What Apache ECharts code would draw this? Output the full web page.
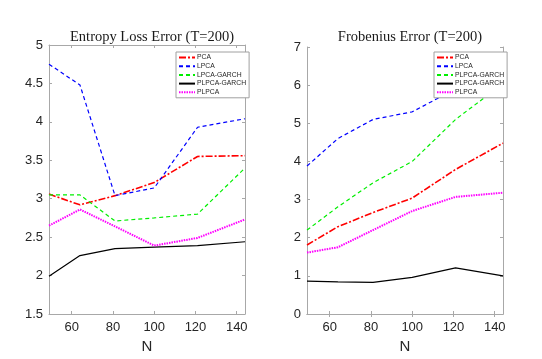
<!DOCTYPE html>
<html>
<head>
<meta charset="utf-8">
<script src="https://cdn.jsdelivr.net/npm/echarts@6/dist/echarts.min.js"></script>
<style>
  html, body { margin: 0; padding: 0; background: #fff; }
  #chart { width: 542px; height: 359px; }
</style>
</head>
<body>
<div id="chart"></div>
<script>
var N = [49, 64, 81, 100, 121, 144];
var xTicks = [60, 80, 100, 120, 140];

// Entropy loss error (left panel)
var entPCA = [3.06, 2.92, 3.04, 3.21, 3.55, 3.56];
var entLPCA = [4.75, 4.48, 3.04, 3.14, 3.93, 4.04];
var entLPCAGarch = [3.05, 3.05, 2.71, 2.75, 2.80, 3.40];
var entPLPCAGarch = [1.99, 2.26, 2.35, 2.37, 2.39, 2.44];
var entPLPCA = [2.65, 2.86, 2.64, 2.39, 2.49, 2.73];
var leftNames = ['PCA', 'LPCA', 'LPCA-GARCH', 'PLPCA-GARCH', 'PLPCA'];

// Frobenius error (right panel)
var froPCA = [1.81, 2.29, 2.66, 3.04, 3.79, 4.48];
var froLPCA = [3.88, 4.60, 5.10, 5.30, 5.90, 6.59];
var froLPCAGarch = [2.20, 2.81, 3.44, 4.00, 5.10, 6.04];
var froPLPCAGarch = [0.86, 0.84, 0.83, 0.96, 1.21, 1.00];
var froPLPCA = [1.61, 1.75, 2.20, 2.70, 3.07, 3.18];
var rightNames = ['PCA', 'LPCA', 'PLPCA-GARCH', 'PLPCA-GARCH', 'PLPCA'];

var styles = [
    {color: '#ff0000', width: 1.6, type: [7, 2, 2, 2]},
    {color: '#0000ff', width: 1.2, type: [4, 3]},
    {color: '#00ee00', width: 1.2, type: [4, 3]},
    {color: '#000000', width: 1.2, type: 'solid'},
    {color: '#ff00ff', width: 2, type: [1.5, 1]}
];

function pairs(vals) {
    return vals.map(function (v, i) { return [N[i], v]; });
}

var chart = echarts.init(document.getElementById('chart'));

var grids = [
    {left: 49, top: 45, width: 196, height: 269},
    {left: 307, top: 47, width: 196, height: 267}
];

function makeSeries(sets, names, idx, prefix) {
    return sets.map(function (vals, i) {
        var s = styles[i];
        return {
            name: prefix + i + ':' + names[i],
            type: 'line',
            xAxisIndex: idx * 2,
            yAxisIndex: idx * 2,
            data: pairs(vals),
            showSymbol: false,
            symbol: 'none',
            silent: true,
            animation: false,
            itemStyle: {color: s.color},
            lineStyle: {color: s.color, width: s.width, type: s.type}
        };
    });
}

var leftSeries = makeSeries([entPCA, entLPCA, entLPCAGarch, entPLPCAGarch, entPLPCA], leftNames, 0, 'L');
var rightSeries = makeSeries([froPCA, froLPCA, froLPCAGarch, froPLPCAGarch, froPLPCA], rightNames, 1, 'R');

var axisFont = {fontFamily: 'Liberation Sans', fontSize: 13, color: '#262626'};

function xAxes(gi) {
    return [{
        type: 'value', gridIndex: gi, min: 49, max: 144,
        name: 'N', nameLocation: 'middle', nameGap: 20,
        nameTextStyle: {fontFamily: 'Liberation Sans', fontSize: 15, color: '#262626'},
        axisLine: {lineStyle: {color: '#a8a8a8'}},
        axisTick: {inside: true, length: 3, customValues: xTicks, lineStyle: {color: '#a8a8a8'}},
        axisLabel: Object.assign({customValues: xTicks, margin: 7}, axisFont),
        splitLine: {show: false}
    }, {
        type: 'value', gridIndex: gi, min: 49, max: 144, position: 'top',
        axisLine: {lineStyle: {color: '#a8a8a8'}},
        axisTick: {inside: true, length: 3, customValues: xTicks, lineStyle: {color: '#a8a8a8'}},
        axisLabel: {show: false},
        splitLine: {show: false}
    }];
}

function yAxes(gi, min, max, interval) {
    return [{
        type: 'value', gridIndex: gi, min: min, max: max, interval: interval,
        axisLine: {show: true, lineStyle: {color: '#a8a8a8'}},
        axisTick: {show: true, inside: true, length: 3, lineStyle: {color: '#a8a8a8'}},
        axisLabel: Object.assign({margin: 6}, axisFont),
        splitLine: {show: false}
    }, {
        type: 'value', gridIndex: gi, min: min, max: max, interval: interval, position: 'right',
        axisLine: {show: true, lineStyle: {color: '#a8a8a8'}},
        axisTick: {show: true, inside: true, length: 3, lineStyle: {color: '#a8a8a8'}},
        axisLabel: {show: false},
        splitLine: {show: false}
    }];
}

function legendFor(series, left, top) {
    return {
        orient: 'vertical',
        left: left, top: top,
        data: series.map(function (s) { return s.name; }),
        formatter: function (name) { return name.split(':')[1]; },
        selectedMode: false,
        itemWidth: 16, itemHeight: 6, itemGap: 1.7,
        itemStyle: {opacity: 0},
        padding: [2, 3, 2, 2],
        borderColor: '#a0a0a0', borderWidth: 1,
        backgroundColor: '#fff',
        textStyle: {fontFamily: 'Liberation Sans', fontSize: 6.8, color: '#262626', padding: [0, 0, 0, -3]}
    };
}

var titleFont = {fontFamily: 'Liberation Serif', fontSize: 14.5, fontWeight: 'normal', color: '#1a1a1a'};

var option = {
    backgroundColor: '#fff',
    animation: false,
    title: [
        {text: 'Entropy Loss Error (T=200)', left: 147, top: 25, textAlign: 'center', textStyle: titleFont},
        {text: 'Frobenius Error (T=200)', left: 405, top: 25, textAlign: 'center', textStyle: titleFont}
    ],
    grid: grids,
    xAxis: xAxes(0).concat(xAxes(1)),
    yAxis: yAxes(0, 1.5, 5, 0.5).concat(yAxes(1, 0, 7, 1)),
    legend: [legendFor(leftSeries, 176, 52), legendFor(rightSeries, 434, 52)],
    series: leftSeries.concat(rightSeries)
};
chart.setOption(option);
</script>
</body>
</html>
